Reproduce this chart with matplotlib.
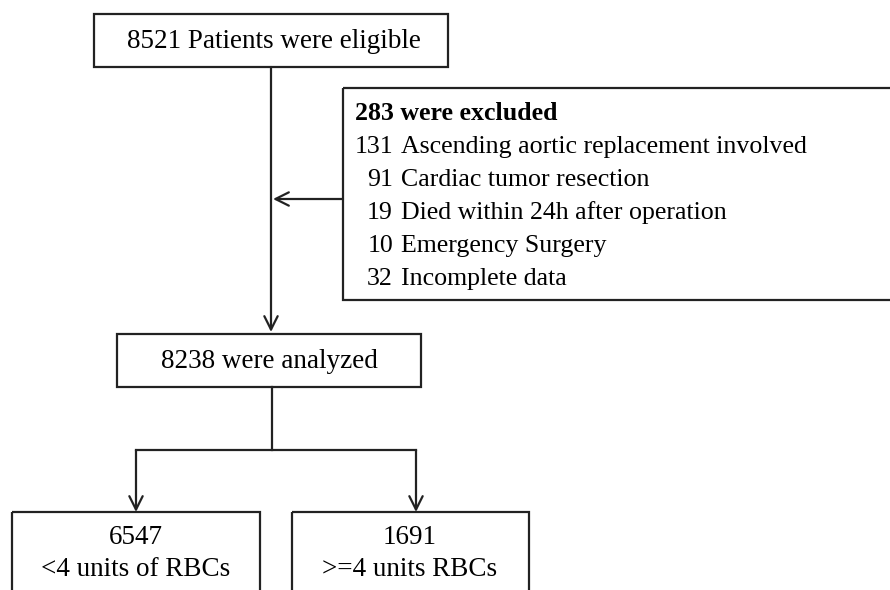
import matplotlib
matplotlib.use("Agg")
import matplotlib.pyplot as plt
from matplotlib.patches import Rectangle

# flowchart text
top_label = "8521 Patients were eligible"
excl_title = "283 were excluded"
excl_counts = ["131", "91", "19", "10", "32"]
excl_reasons = ["Ascending aortic replacement involved",
                "Cardiac tumor resection",
                "Died within 24h after operation",
                "Emergency Surgery",
                "Incomplete data"]
mid_label = "8238 were analyzed"
group_counts = ["6547", "1691"]
group_labels = ["<4 units of RBCs", ">=4 units RBCs"]

plt.rcParams['font.family'] = ['Liberation Serif', 'DejaVu Serif']
fs = 19.5
fs_ex = 18.6
lc = '#222222'
lw = 1.6

fig = plt.figure(figsize=(8.9, 5.9), dpi=100)
ax = fig.add_axes([0, 0, 1, 1])
ax.set_xlim(0, 890)
ax.set_ylim(590, 0)
ax.axis('off')


def box(x0, y0, x1, y1):
    ax.add_patch(Rectangle((x0, y0), x1 - x0, y1 - y0, fill=False,
                           edgecolor=lc, linewidth=lw, clip_on=False))


def arrow(x0, y0, x1, y1):
    ax.annotate('', xy=(x1, y1), xytext=(x0, y0),
                arrowprops=dict(arrowstyle='->', color=lc, lw=lw,
                                mutation_scale=24, shrinkA=0, shrinkB=0))


# top box
box(94, 14, 448, 67)
ax.text(274, 41, top_label, fontsize=fs, ha='center', va='center')

# main vertical line down to analyzed box
arrow(271, 67, 271, 332)

# excluded box
box(343, 88, 895, 300)
ax.text(355, 113, excl_title, fontsize=fs_ex, ha='left', va='center', fontweight='bold')
for i, (n, r) in enumerate(zip(excl_counts, excl_reasons)):
    y = 147 + i * 33
    ax.text(393, y, n, fontsize=fs_ex, ha='right', va='center')
    ax.text(401, y, r, fontsize=fs_ex, ha='left', va='center')

# arrow from excluded box to main line
arrow(343, 199, 273, 199)

# analyzed box
box(117, 334, 421, 387)
ax.text(269, 361, mid_label, fontsize=fs, ha='center', va='center')

# split
ax.plot([272, 272], [387, 450], color=lc, lw=lw)
ax.plot([136, 416], [450, 450], color=lc, lw=lw, solid_capstyle='projecting')
arrow(136, 450, 136, 512)
arrow(416, 450, 416, 512)

# bottom boxes
box(12, 512, 260, 620)
box(292, 512, 529, 620)
for cx, n, lab in zip([136, 410], group_counts, group_labels):
    ax.text(cx, 537, n, fontsize=fs, ha='center', va='center')
    ax.text(cx, 570, lab, fontsize=fs, ha='center', va='center')

fig.savefig('out.png', dpi=100, facecolor='white')
